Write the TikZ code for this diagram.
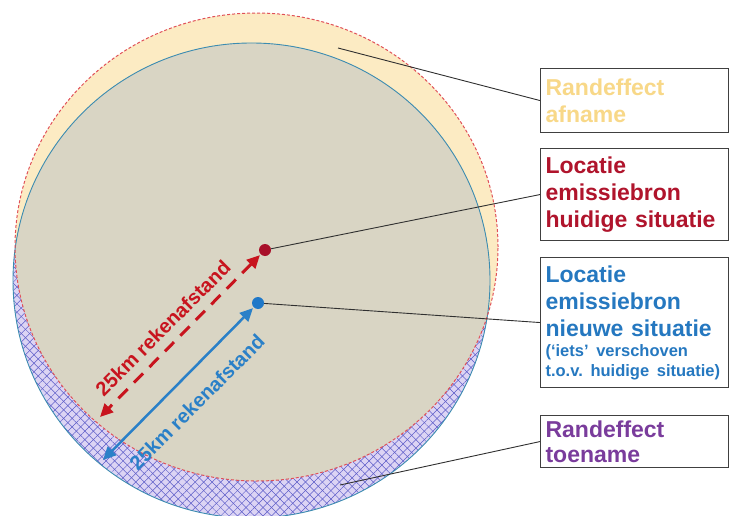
\documentclass[tikz,border=0pt]{standalone}
\usepackage{fontspec}
\setmainfont{Liberation Sans}
\usetikzlibrary{arrows.meta,patterns.meta}
\definecolor{afnamegeel}{HTML}{FCEBC3}
\definecolor{toenamelila}{HTML}{DCD4F4}
\definecolor{arceerblauw}{HTML}{5C5CC8}
\definecolor{overlapbeige}{HTML}{D9D5C4}
\definecolor{cirkelblauw}{HTML}{3C8CB0}
\definecolor{cirkelrood}{HTML}{E05058}
\definecolor{bronrood}{HTML}{A8102A}
\definecolor{bronblauw}{HTML}{1F78C8}
\definecolor{pijlrood}{HTML}{C8141E}
\definecolor{pijlblauw}{HTML}{2A80C8}
\definecolor{lijngrijs}{HTML}{303030}
\definecolor{boxrand}{HTML}{404040}
\definecolor{afnametekst}{HTML}{F8D888}
\definecolor{huidigtekst}{HTML}{B0142C}
\definecolor{nieuwtekst}{HTML}{2578C0}
\definecolor{toenametekst}{HTML}{7A3C9C}
\frenchspacing
\tikzset{
	labelbox/.style={draw=boxrand, line width=1.1pt, fill=white, anchor=north west,
		text width=178pt, inner xsep=5pt, inner ysep=0pt, align=left,
		font=\bfseries\fontsize{23}{27}\selectfont},
	lijn/.style={line width=0.9pt, color=lijngrijs},
	bron/.style={circle, inner sep=0pt, minimum size=12pt},
	rekenpijl/.style={line width=3pt, {Triangle[length=13pt, width=12pt]}-{Triangle[length=13pt, width=12pt]}},
	rekenlabel/.style={font=\bfseries\fontsize{20}{24}\selectfont, inner sep=0pt, rotate=45}
}
\begin{document}
\begin{tikzpicture}[x=1pt, y=-1pt]
	%%%%% START %%%%%
	\useasboundingbox (0, 0) rectangle (730, 516);
	\clip (0, 0) rectangle (730, 516);
	
	% oude cirkel: randeffect afname
	\fill[color=afnamegeel] (256.5, 247) ellipse [x radius=241.5pt, y radius=234pt];
	
	% nieuwe cirkel: randeffect toename
	\fill[color=toenamelila] (251.5, 280.5) ellipse [x radius=238.5pt, y radius=237.5pt];
	\fill[pattern={Lines[angle=45, distance=6pt, line width=0.5pt]}, pattern color=arceerblauw] (251.5, 280.5) ellipse [x radius=238.5pt, y radius=237.5pt];
	\fill[pattern={Lines[angle=-45, distance=6pt, line width=0.5pt]}, pattern color=arceerblauw] (251.5, 280.5) ellipse [x radius=238.5pt, y radius=237.5pt];
	
	% overlap
	\begin{scope}
		\clip (256.5, 247) ellipse [x radius=241.5pt, y radius=234pt];
		\fill[color=overlapbeige] (251.5, 280.5) ellipse [x radius=238.5pt, y radius=237.5pt];
	\end{scope}
	
	\draw[line width=0.9pt, color=cirkelblauw] (251.5, 280.5) ellipse [x radius=238.5pt, y radius=237.5pt];
	\draw[line width=1pt, color=cirkelrood, dash pattern=on 3pt off 2pt] (256.5, 247) ellipse [x radius=241.5pt, y radius=234pt];
	
	% bronnen
	\node[bron, fill=bronrood] (reddot) at (265, 250) {};
	\node[bron, fill=bronblauw] (bluedot) at (258, 303) {};
	
	% tekstvakken
	\node[labelbox, minimum height=64pt, text=afnametekst] (afname) at (540, 68) {Randeffect\\afname};
	\node[labelbox, minimum height=92pt, text=huidigtekst] (huidig) at (540, 148) {Locatie\\emissiebron\\huidige situatie};
	\node[labelbox, minimum height=130pt, text=nieuwtekst] (nieuw) at (540, 257) {Locatie\\emissiebron\\nieuwe situatie\par
		{\fontsize{16.5}{20}\selectfont \mbox{(‘iets’ verschoven}\\\mbox{t.o.v. huidige situatie)}\par}};
	\node[labelbox, minimum height=52pt, text=toenametekst, font=\bfseries\fontsize{23}{25}\selectfont] (toename) at (540, 415) {Randeffect\\toename};
	
	% verbindingslijnen
	\coordinate (afnamept) at (338, 48);
	\coordinate (toenamept) at (340, 485);
	\draw[lijn] (afnamept) -- (afname.west);
	\draw[lijn] (reddot) -- (huidig.west);
	\draw[lijn] (bluedot) -- (nieuw.west);
	\draw[lijn] (toenamept) -- (toename.west);
	
	% rekenafstanden
	\coordinate (roodeind) at (100, 417);
	\coordinate (blauweind) at (103, 460);
	\draw[rekenpijl, color=pijlrood, dash pattern=on 13pt off 9pt, shorten <=1pt] (reddot) -- (roodeind);
	\draw[rekenpijl, color=pijlblauw, line width=2.5pt, shorten <=1pt] (bluedot) -- (blauweind);
	\node[rekenlabel, text=pijlrood] (roodlabel) at (163, 328) {25km rekenafstand};
	\node[rekenlabel, text=pijlblauw] (blauwlabel) at (197, 402) {25km rekenafstand};
	
	%%%%% END %%%%%
\end{tikzpicture}
\end{document}
